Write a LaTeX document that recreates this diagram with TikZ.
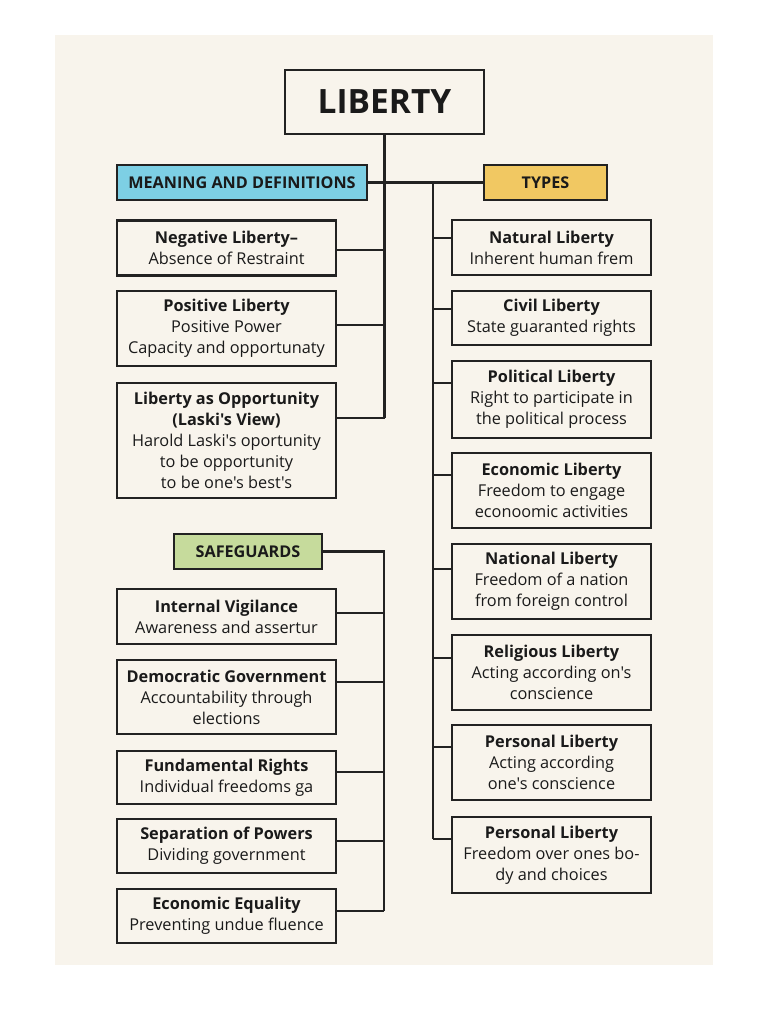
\documentclass[tikz,border=0pt]{standalone}
\usepackage{fontspec}
\setmainfont{Open Sans}[Ligatures=TeXOff]
\definecolor{bgc}{HTML}{F8F4EC}
\definecolor{linec}{HTML}{222222}
\definecolor{textc}{HTML}{1A1A1A}
\definecolor{bluec}{HTML}{7DCFE4}
\definecolor{yellowc}{HTML}{F1C862}
\definecolor{greenc}{HTML}{C6DB9C}
\tikzset{
  box/.style={draw=linec, line width=2.1pt, fill=bgc, inner sep=0pt, align=center,
    text=textc, font=\fontsize{16.3}{21}\selectfont},
  lbox/.style={box, minimum width=219pt},
  rbox/.style={box, minimum width=199pt},
  head/.style={draw=linec, line width=2.1pt, inner sep=0pt, align=center, text=textc,
    minimum height=35pt, font=\fontsize{16.2}{18}\selectfont\bfseries},
  conn/.style={draw=linec, line width=2.1pt},
}
\begin{document}
\begin{tikzpicture}[x=1pt,y=-1pt]
\useasboundingbox (0,0) rectangle (768,1024);
\fill[white] (0,0) rectangle (768,1024);
\fill[bgc] (55,35) rectangle (713,965);

% title
\node[box, minimum width=199pt, minimum height=64pt, font=\fontsize{33.5}{36}\selectfont\bfseries] (lib) at (384.5,102) {LIBERTY};

% headers
\node[head, fill=bluec, minimum width=250pt] (mean) at (242,182.5) {MEANING AND DEFINITIONS};
\node[head, fill=yellowc, minimum width=123pt] (types) at (545.5,182.5) {TYPES};
\node[head, fill=greenc, minimum width=148pt] (safe) at (248,551.5) {SAFEGUARDS};

% meaning boxes
\node[lbox, minimum height=55pt] (neg) at (226.5,248) {\textbf{Negative Liberty–}\\Absence of Restraint};
\node[lbox, minimum height=75pt] (pos) at (226.5,328.5) {\textbf{Positive Liberty}\\Positive Power\\Capacity and opportunaty};
\node[lbox, minimum height=115pt] (opp) at (226.5,440.5) {\textbf{Liberty as Opportunity}\\\textbf{(Laski's View)}\\Harold Laski's oportunity\\to be opportunity\\to be one's best's};

% types boxes
\node[rbox, minimum height=55pt] (nat) at (551.5,247.5) {\textbf{Natural Liberty}\\Inherent human frem};
\node[rbox, minimum height=54pt] (civ) at (551.5,318) {\textbf{Civil Liberty}\\State guaranted rights};
\node[rbox, minimum height=77pt] (pol) at (551.5,399.5) {\textbf{Political Liberty}\\Right to participate in\\the political process};
\node[rbox, minimum height=75pt] (eco) at (551.5,490.5) {\textbf{Economic Liberty}\\Freedom to engage\\econoomic activities};
\node[rbox, minimum height=75pt] (nati) at (551.5,581.5) {\textbf{National Liberty}\\Freedom of a nation\\from foreign control};
\node[rbox, minimum height=75pt] (rel) at (551.5,672.5) {\textbf{Religious Liberty}\\Acting according on's\\conscience};
\node[rbox, minimum height=75pt] (per1) at (551.5,762.5) {\textbf{Personal Liberty}\\Acting according\\one's conscience};
\node[rbox, minimum height=76pt] (per2) at (551.5,855) {\textbf{Personal Liberty}\\Freedom over ones bo-\\dy and choices};

% safeguard boxes
\node[lbox, minimum height=55pt] (vig) at (226.5,616.5) {\textbf{Internal Vigilance}\\Awareness and assertur};
\node[lbox, minimum height=74pt] (dem) at (226.5,697) {\textbf{Democratic Government}\\Accountability through\\elections};
\node[lbox, minimum height=53pt] (fun) at (226.5,777.5) {\textbf{Fundamental Rights}\\Individual freedoms ga};
\node[lbox, minimum height=54pt] (sep) at (226.5,846) {\textbf{Separation of Powers}\\Dividing government};
\node[lbox, minimum height=54pt] (equ) at (226.5,916) {\textbf{Economic Equality}\\Preventing undue fluence};

% left trunk coordinates
\coordinate (l1) at (384.5,250);
\coordinate (l2) at (384.5,325);
\coordinate (l3) at (384.5,418);
% right trunk coordinates
\coordinate (r0) at (433,182.5);
\coordinate (r1) at (433,238);
\coordinate (r2) at (433,309);
\coordinate (r3) at (433,383);
\coordinate (r4) at (433,475);
\coordinate (r5) at (433,569);
\coordinate (r6) at (433,658);
\coordinate (r7) at (433,747);
\coordinate (r8) at (433,839);
% safeguard trunk coordinates
\coordinate (s0) at (384,551.5);
\coordinate (s1) at (384,613);
\coordinate (s2) at (384,682);
\coordinate (s3) at (384,772);
\coordinate (s4) at (384,841);
\coordinate (s5) at (384,911);

% connectors
\draw[conn] (lib.south) -- (l3);
\draw[conn] (mean.east) -- (types.west);
\draw[conn] (neg.east |- l1) -- (l1);
\draw[conn] (pos.east |- l2) -- (l2);
\draw[conn] (opp.east |- l3) -- (l3);

\draw[conn] (r0) -- (r8);
\draw[conn] (r1) -- (nat.west |- r1);
\draw[conn] (r2) -- (civ.west |- r2);
\draw[conn] (r3) -- (pol.west |- r3);
\draw[conn] (r4) -- (eco.west |- r4);
\draw[conn] (r5) -- (nati.west |- r5);
\draw[conn] (r6) -- (rel.west |- r6);
\draw[conn] (r7) -- (per1.west |- r7);
\draw[conn] (r8) -- (per2.west |- r8);

\draw[conn] (safe.east) -- (s0) -- (s5);
\draw[conn] (vig.east |- s1) -- (s1);
\draw[conn] (dem.east |- s2) -- (s2);
\draw[conn] (fun.east |- s3) -- (s3);
\draw[conn] (sep.east |- s4) -- (s4);
\draw[conn] (equ.east |- s5) -- (s5);
\end{tikzpicture}
\end{document}
